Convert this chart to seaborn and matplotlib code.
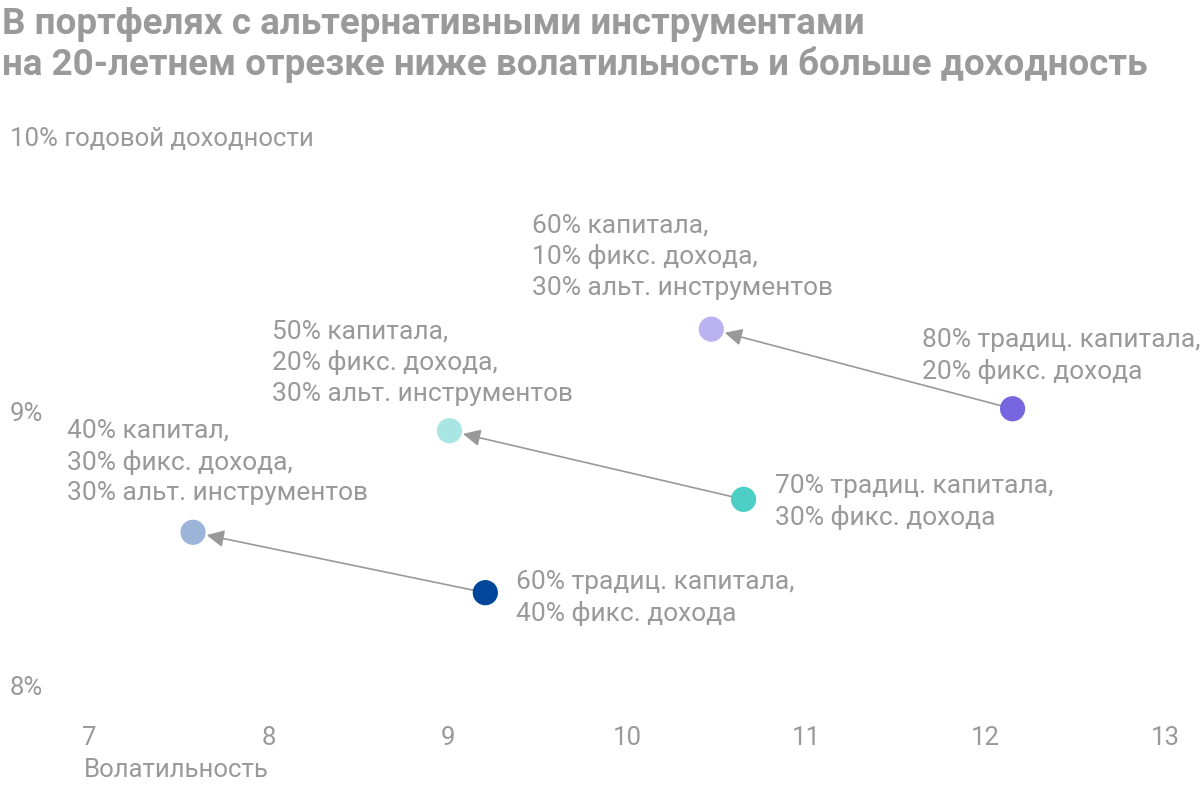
import matplotlib
matplotlib.use("Agg")
import matplotlib.pyplot as plt
import seaborn as sns
import pandas as pd

# ---- data ----
portfolios = [
    "60% традиц. капитала,\n40% фикс. дохода",
    "40% капитал,\n30% фикс. дохода,\n30% альт. инструментов",
    "70% традиц. капитала,\n30% фикс. дохода",
    "50% капитала,\n20% фикс. дохода,\n30% альт. инструментов",
    "80% традиц. капитала,\n20% фикс. дохода",
    "60% капитала,\n10% фикс. дохода,\n30% альт. инструментов",
]
volatility = [9.21, 7.58, 10.65, 9.01, 12.15, 10.47]
annual_return = [8.34, 8.56, 8.68, 8.93, 9.01, 9.30]
point_colors = ["#00469b", "#9bb4d8", "#4ecfc5", "#a9e6e3", "#7866e1", "#bbb2f1"]
# pairs (from traditional -> alternative)
arrow_from = [0, 2, 4]
arrow_to = [1, 3, 5]
# label offsets in pixels (dx right, dy down) for the first-line baseline
label_dx = [31, -126, 31, -177, -91, -179]
label_dy = [-6, -100, -8, -98, -64, -102]

x_ticks = [7, 8, 9, 10, 11, 12, 13]
y_ticks = [8, 9, 10]
y_tick_labels = ["8%", "9%", "10% годовой доходности"]
title = "В портфелях с альтернативными инструментами\nна 20-летнем отрезке ниже волатильность и больше доходность"
x_label = "Волатильность"

df = pd.DataFrame({"portfolio": portfolios, "volatility": volatility, "ret": annual_return})

sns.set_theme(style="white")
plt.rcParams["font.family"] = ["Roboto", "DejaVu Sans"]

GRAY = "#999999"
LINE_PX = 34
fig = plt.figure(figsize=(12, 7.89), dpi=100)
ax = fig.add_axes([0, 89 / 789, 1, 600 / 789])

sns.scatterplot(data=df, x="volatility", y="ret", hue="portfolio",
                palette=point_colors, s=330, edgecolor="none", legend=False,
                ax=ax, zorder=3)

for a, b in zip(arrow_from, arrow_to):
    ax.annotate("", xy=(volatility[b], annual_return[b]),
                xytext=(volatility[a], annual_return[a]),
                arrowprops=dict(arrowstyle="-|>,head_length=0.65,head_width=0.32",
                                mutation_scale=16, color=GRAY, lw=1.2,
                                shrinkA=0, shrinkB=10), zorder=2)

for i, txt in enumerate(portfolios):
    n_extra = txt.count("\n")
    dy_last = label_dy[i] + n_extra * LINE_PX
    ax.annotate(txt, xy=(volatility[i], annual_return[i]),
                xytext=(label_dx[i] * 0.72, -dy_last * 0.72),
                textcoords="offset points", ha="left", va="baseline",
                fontsize=19, color=GRAY, linespacing=1.35)

ax.set_xlim(7 - 89 / 179.3, 13 + 35 / 179.3)
ax.set_ylim(8 - 14 / 274.5, 10 + 37 / 274.5)
ax.set_xticks(x_ticks)
ax.set_xticklabels([str(t) for t in x_ticks])
ax.set_yticks(y_ticks)
ax.set_yticklabels(y_tick_labels)
ax.tick_params(axis="both", length=0, labelsize=18.5, labelcolor=GRAY)
ax.tick_params(axis="x", pad=19)
ax.tick_params(axis="y", pad=-7)
for lab in ax.get_yticklabels():
    lab.set_horizontalalignment("left")
for s in ax.spines.values():
    s.set_visible(False)
ax.grid(False)
ax.set_ylabel("")
ax.set_xlabel(x_label, fontsize=18.5, color=GRAY, ha="left")
ax.xaxis.set_label_coords(84 / 1200, -58 / 600)

fig.text(2 / 1200, 1 - 75 / 789, title, ha="left", va="baseline", fontsize=26.5,
         fontweight="bold", color="#9a9a9a", linespacing=1.16)

fig.savefig("out.png", dpi=100)
